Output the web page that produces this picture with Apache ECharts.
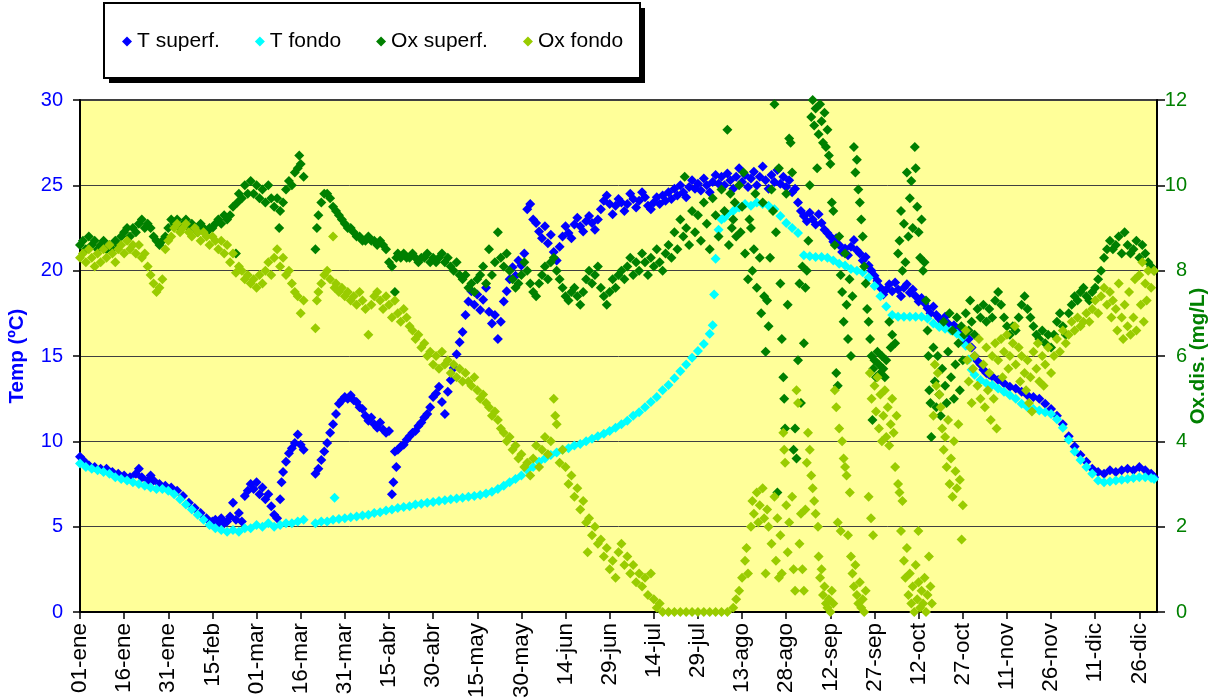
<!DOCTYPE html>
<html>
<head>
<meta charset="utf-8">
<script src="https://cdn.jsdelivr.net/npm/echarts@6/dist/echarts.min.js"></script>
<style>
  html, body { margin: 0; padding: 0; background: #fff; }
  #chart { width: 1214px; height: 699px; }
</style>
</head>
<body>
<div id="chart"></div>
<script>
// Tick labels on the date axis, one every 15 days (leap year)
const dateTicks = ['01-ene','16-ene','31-ene','15-feb','01-mar','16-mar','31-mar','15-abr','30-abr',
  '15-may','30-may','14-jun','29-jun','14-jul','29-jul','13-ago','28-ago','12-sep','27-sep',
  '12-oct','27-oct','11-nov','26-nov','11-dic','26-dic'];

// Surface temperature (ºC): [day of year, value]
const tSuperf = [
  [0,9.1],[1,8.9],[2,8.7],[3,8.6],[5,8.5],[7,8.4],[9,8.4],[11,8.2],[13,8.1],[15,8.0],[17,7.9],[19,8.1],[20,8.4],
  [21,7.9],[23,7.7],[24,8.0],[25,7.7],[27,7.5],[29,7.4],[31,7.3],[33,7.1],[35,6.8],[37,6.4],[39,6.1],[41,5.8],
  [43,5.5],[45,5.3],[46,5.4],[47,5.2],[48,5.5],[49,5.2],[50,5.3],[51,5.6],[52,6.4],[53,5.4],[54,5.8],[55,5.3],
  [56,6.8],[57,7.1],[58,7.5],[59,7.2],[60,7.6],[61,6.9],[62,7.3],[63,6.6],[64,6.9],[65,6.2],[66,5.7],[67,5.5],
  [68,6.6],[68.5,7.6],[69,8.2],[70,8.8],[71,9.3],[72,9.6],[73,9.9],[74,10.4],[75,9.8],[76,9.5],
  [80,8.1],[81,8.4],[82,8.9],[83,9.4],[84,9.9],[85,10.5],[86,11.0],[87,11.6],[88,12.2],[89,12.4],[90,12.6],
  [91,12.5],[92,12.7],[93,12.4],[94,12.3],[95,12.0],[96,11.9],[97,11.5],[98,11.2],[99,11.4],[100,11.0],
  [101,10.8],[102,11.1],[103,10.7],[104,10.5],[105,10.6],[106,6.9],[106.5,7.6],[107,9.4],[107.5,8.5],
  [108,9.5],[109,9.7],[110,9.8],[111,10.1],[112,10.3],[113,10.5],[114,10.6],[115,10.9],[116,11.1],[117,11.4],
  [118,11.6],[119,12.0],[120,12.6],[121,12.8],[122,13.2],[123,12.3],[124,11.6],[125,12.9],[126,13.6],
  [127,14.3],[128,15.1],[129,15.8],[130,16.4],[131,17.4],[132,18.2],[133,18.8],[134,18.0],[135,18.6],
  [136,17.7],[137,18.3],[138,19.0],[139,17.6],[140,16.9],[141,17.4],[142,16.0],[143,17.0],[144,18.2],
  [145,18.8],[146,19.5],[147,20.2],[148,19.7],[149,20.6],[150,20.3],[151,21.0],[152,23.6],[153,23.9],
  [154,23.0],[155,22.8],[156,22.3],[157,21.9],[158,22.6],[159,21.6],[160,22.1],[161,21.1],[162,20.6],
  [163,21.4],[164,22.0],[165,22.6],[166,22.2],[167,21.9],[168,22.7],[169,23.1],[170,22.6],[171,22.3],
  [172,22.9],[173,23.2],[174,22.8],[175,22.4],[176,23.0],[177,23.6],[178,24.1],[179,24.4],[180,23.9],
  [181,23.3],[182,23.8],[183,24.2],[184,24.0],[185,23.5],[186,23.9],[187,24.5],[188,24.2],[189,23.7],
  [190,24.1],[191,24.6],[192,24.3],[193,23.8],[194,23.6],[195,24.0],[196,24.3],[197,23.9],[198,24.4],
  [199,24.1],[200,24.6],[201,24.2],[202,24.8],[203,24.4],[204,25.0],[205,24.6],[206,24.3],[207,24.9],
  [208,25.3],[209,24.8],[210,25.1],[211,24.7],[212,25.4],[213,25.0],[214,24.6],[215,25.2],[216,25.6],
  [217,25.1],[218,25.5],[219,25.0],[220,25.7],[221,25.3],[222,24.8],[223,25.5],[224,26.0],[225,25.2],
  [226,25.6],[227,24.9],[228,25.4],[229,25.8],[230,25.0],[231,25.5],[232,26.1],[233,25.3],[234,24.8],
  [235,25.6],[236,25.2],[237,25.9],[238,25.1],[239,25.5],[240,24.9],[241,25.3],[242,24.6],[243,24.8],
  [244,24.0],[245,23.5],[246,23.2],[247,22.9],[248,23.4],[249,23.0],[250,22.7],[251,23.3],[252,22.8],
  [253,22.4],[254,22.2],[255,22.0],[256,21.7],[257,21.9],[258,21.5],[259,21.1],[260,21.3],[261,20.9],
  [262,21.4],[263,21.8],[264,21.2],[265,21.0],[266,20.6],[267,20.8],[268,20.3],[269,20.0],[270,19.7],
  [271,19.4],[272,19.0],[273,18.6],[274,18.9],[275,19.2],[276,18.8],[277,19.3],[278,18.9],[279,18.5],
  [280,19.0],[281,19.2],[282,18.7],[283,18.9],[284,18.5],[285,18.2],[286,18.4],[287,18.1],[288,17.8],
  [289,17.5],[290,17.9],[291,17.4],[292,17.2],[293,17.0],[294,17.3],[295,16.9],[296,16.6],[297,16.8],
  [298,16.4],[299,16.6],[300,16.2],[301,15.8],[302,16.0],[303,15.5],[304,15.0],[305,14.7],[306,14.5],
  [307,14.2],[308,14.0],[309,13.9],[310,13.8],[312,13.6],[314,13.4],[316,13.2],[318,13.1],[320,12.9],
  [322,12.7],[324,12.6],[326,12.5],[328,12.2],[330,11.9],[332,11.5],[334,11.0],[336,10.3],[338,9.7],
  [340,9.2],[342,8.8],[344,8.4],[346,8.2],[348,8.1],[350,8.3],[352,8.2],[354,8.3],[356,8.4],[358,8.3],
  [360,8.5],[362,8.3],[364,8.1],[365,7.9]
];

// Bottom temperature (ºC)
const tFondo = [
  [0,8.7],[2,8.5],[4,8.4],[6,8.3],[8,8.2],[10,8.1],[12,7.9],[14,7.8],[16,7.7],[18,7.6],[20,7.5],[22,7.4],
  [24,7.3],[26,7.2],[28,7.2],[30,7.1],[32,6.9],[34,6.6],[36,6.3],[38,6.0],[40,5.7],[42,5.4],[44,5.1],
  [46,4.9],[48,4.8],[50,4.7],[52,4.8],[54,4.7],[56,4.9],[58,4.9],[60,5.1],[62,5.0],[64,5.2],[66,5.0],
  [68,5.1],[70,5.2],[72,5.2],[74,5.3],[76,5.4],
  [80,5.2],[82,5.3],[84,5.3],[86,5.4],[86.5,6.7],[88,5.45],[90,5.5],[92,5.55],[94,5.6],[96,5.65],[98,5.7],
  [100,5.8],[102,5.85],[104,5.95],[106,6.0],[108,6.1],[110,6.15],[112,6.2],[114,6.3],[116,6.35],[118,6.4],
  [120,6.45],[122,6.5],[124,6.55],[126,6.6],[128,6.65],[130,6.7],[132,6.75],[134,6.8],[136,6.85],[138,6.95],
  [140,7.05],[142,7.2],[144,7.4],[146,7.6],[148,7.8],[150,8.0],[152,8.3],[154,8.5],[156,8.8],[158,9.0],
  [160,9.2],[162,9.35],[164,9.5],[166,9.6],[168,9.75],[170,9.85],[172,10.0],[174,10.15],[176,10.3],
  [178,10.45],[180,10.6],[182,10.8],[184,11.0],[186,11.2],[188,11.5],[190,11.7],[192,12.0],[194,12.3],
  [196,12.6],[198,13.0],[200,13.3],[202,13.7],[204,14.1],[206,14.5],[208,14.9],[210,15.3],[212,15.7],
  [214,16.3],[215,16.8],[215.5,18.6],[216,20.7],[217,22.4],[218,23.0],[219,23.1],[220,23.3],[222,23.5],
  [224,23.7],[226,23.9],[228,23.8],[230,24.0],[232,23.9],[234,23.8],[236,23.6],[238,23.2],[240,22.8],
  [242,22.5],[244,22.2],
  [246,20.9],[248,20.85],[250,20.8],[252,20.8],[254,20.75],[256,20.6],[258,20.4],[260,20.3],[262,20.1],
  [264,20.0],[266,19.9],[268,19.6],[270,19.1],[272,18.5],[274,17.9],[276,17.4],[278,17.3],[280,17.3],
  [282,17.3],[284,17.3],[286,17.3],[288,17.2],[290,16.9],[292,16.7],[294,16.6],[296,16.5],[298,16.3],
  [300,16.1],[301,15.6],[302,14.8],[303,14.2],[304,13.9],[306,13.6],[308,13.4],[310,13.3],[312,13.1],
  [314,12.9],[316,12.7],[318,12.5],[320,12.2],[322,12.0],[324,11.9],[326,11.8],[328,11.7],[330,11.6],
  [332,11.3],[334,10.8],[336,10.1],[338,9.4],[340,8.9],[342,8.5],[344,8.1],[346,7.7],[348,7.6],[350,7.65],
  [352,7.7],[354,7.75],[356,7.8],[358,7.85],[360,7.9],[362,7.9],[364,7.85],[365,7.8]
];

// Surface dissolved oxygen (mg/L)
const oxSuperf = [
  [0,8.6],[1,8.7],[2,8.5],[3,8.8],[4,8.6],[5,8.7],[6,8.5],[7,8.6],[8,8.7],[9,8.5],[10,8.6],[11,8.5],[12,8.7],
  [13,8.6],[14,8.8],[15,8.9],[16,9.0],[17,8.8],[18,9.0],[19,8.9],[20,9.1],[21,9.2],[22,9.0],[23,9.1],[24,9.0],
  [25,8.8],[26,8.7],[27,8.6],[28,8.7],[29,8.8],[30,9.0],[31,9.2],[32,9.1],[33,9.2],[34,9.0],[35,9.1],[36,9.2],
  [37,9.0],[38,9.1],[39,9.0],[40,8.9],[41,9.1],[42,9.0],[43,8.9],[44,9.0],[45,9.0],[46,9.1],[47,9.2],[48,9.1],
  [49,9.3],[50,9.2],[51,9.3],[52,9.5],[53,8.4],[53.5,9.6],[54,9.8],[55,9.7],[56,10.0],[57,9.8],[58,10.1],
  [59,9.8],[60,10.0],[61,9.7],[62,9.9],[63,9.6],[64,10.0],[65,9.7],[66,9.5],[67,9.7],[67.7,9.0],[68,9.4],
  [69,9.6],[70,9.9],[71,10.1],[72,10.0],[73,10.3],[74,10.4],[74.5,10.7],[75,10.5],[76,10.2],
  [80,8.5],[80.5,9.0],[81,9.3],[82,9.6],[83,9.8],[84,9.8],[85,9.7],[86,9.5],[87,9.4],[88,9.3],[89,9.2],
  [90,9.1],[91,9.0],[92,9.0],[93,8.9],[94,8.8],[95,8.8],[96,8.7],[97,8.7],[98,8.8],[99,8.7],[100,8.7],
  [101,8.6],[102,8.7],[103,8.6],[104,8.5],[105,8.2],[106,8.1],[107,7.5],[107.5,8.3],[108,8.4],[109,8.3],
  [110,8.4],[111,8.3],[112,8.3],[113,8.4],[114,8.3],[115,8.2],[116,8.3],[117,8.3],[118,8.4],[119,8.2],
  [120,8.3],[121,8.2],[122,8.3],[123,8.4],[124,8.2],[125,8.3],[126,8.1],[127,8.0],[128,8.2],[129,7.9],
  [130,7.8],[131,7.9],[132,7.6],[133,7.7],[134,7.5],[135,7.8],[136,7.9],[137,8.1],[138,7.7],[139,8.5],
  [140,7.9],[141,8.2],[142,8.9],[143,8.3],[144,8.1],[145,8.4],[146,8.0],[147,7.8],[148,7.6],[149,7.7],
  [150,7.9],[151,8.2],[152,8.0],[153,7.7],[154,7.5],[155,7.4],[156,7.7],[157,7.9],[158,8.1],[159,7.8],
  [160,8.2],[161,8.3],[162,8.0],[163,7.8],[164,7.6],[165,7.4],[166,7.3],[167,7.5],[168,7.6],[169,7.4],
  [170,7.2],[171,7.5],[172,7.8],[173,8.0],[174,7.7],[175,7.9],[176,8.1],[177,7.6],[178,7.4],[179,7.2],
  [180,7.5],[181,7.8],[182,7.6],[183,7.9],[184,8.0],[185,7.8],[186,8.1],[187,8.3],[188,7.9],[189,8.2],
  [190,8.0],[191,8.4],[192,8.2],[193,7.9],[194,8.3],[195,8.1],[196,8.5],[197,8.2],[198,8.0],[199,8.4],
  [200,8.6],[201,8.3],[202,8.9],[203,8.5],[204,9.2],[205,8.8],[205.5,10.2],[206,9.0],[207,8.6],[208,9.4],
  [209,8.9],[210,9.3],[211,8.7],[212,9.6],[213,9.1],[214,8.5],[215,9.7],[216,9.3],[217,8.8],[218,9.9],
  [219,9.4],[220,11.3],[220.5,8.6],[221,9.8],[221.5,9.0],[222,9.2],[222.5,9.6],[223,8.8],[224,10.0],
  [224.5,8.9],[225,9.5],[225.5,10.3],[226,8.4],[227,7.8],[227.5,9.2],[228,9.0],[228.5,8.0],[229,8.5],
  [229.5,9.8],[230,7.6],[231,8.3],[231.5,7.0],[232,9.6],[232.5,7.4],[233,6.1],[233.5,7.3],[234,6.7],
  [234.5,8.3],[235,9.9],[235.5,9.4],[236,11.9],[236.5,8.9],[237,2.8],[237.5,10.4],[238,7.7],[238.5,6.4],
  [239,5.5],[239.3,5.0],[239.6,4.3],[240,9.8],[240.5,7.2],[241,11.1],[241.5,11.0],[242,10.3],[242.5,3.8],
  [243,4.3],[243.5,3.6],[244,5.9],[244.5,7.7],[245,4.9],
  [245.5,8.1],[246,6.3],[246.5,7.6],[247,8.0],[247.5,8.7],[248,10.0],[248.5,11.6],[249,12.0],[249.5,11.4],
  [250,11.8],[250.5,10.4],[251,11.2],[251.5,11.9],[252,11.5],[252.5,11.0],[253,11.7],[253.5,10.9],
  [254,11.3],[254.5,10.7],[255,10.5],[255.5,9.6],[256,9.4],[256.5,8.6],[257,5.6],[257.5,5.3],[258,8.8],
  [258.5,7.9],[259,7.5],[259.5,6.8],[260,8.4],[260.5,7.2],[261,6.4],[261.5,7.8],[262,6.0],[262.5,7.4],
  [263,10.9],[263.5,10.3],[264,10.6],[264.5,9.9],[265,9.6],[265.5,9.2],[266,8.8],[266.5,8.1],[267,7.7],
  [267.5,7.1],[268,6.8],[268.5,6.4],[269,6.0],[269.3,4.5],[269.6,5.7],[270,5.9],[270.5,5.5],[271,6.1],
  [271.5,5.8],[272,5.6],[272.5,6.0],[273,5.7],[273.5,5.5],[274,5.9],[275,6.8],[275.5,6.2],[276,6.5],
  [277,6.3],[278,8.4],[278.5,8.7],[279,9.4],[279.5,8.0],[280,9.1],[280.5,8.2],[281,10.3],[281.5,8.8],
  [282,9.7],[282.5,10.1],[283,9.0],[283.7,10.9],[284,10.4],[284.5,9.5],[285,8.9],[285.5,8.3],[286,9.2],
  [286.5,8.0],[287,8.2],[287.5,7.3],[288,6.6],[288.3,6.0],[288.6,5.2],[289,4.9],[289.3,4.1],[290,6.2],
  [290.5,5.4],[291,4.8],[291.5,6.0],[292,5.1],[292.5,4.6],[293,5.7],[293.5,6.8],[294,5.3],[294.5,4.9],
  [295,6.1],[295.5,7.0],[296,5.5],[296.5,6.6],[297,5.0],[297.5,5.8],[298,6.9],[298.5,6.3],[299,5.2],
  [299.5,6.7],[300,5.9],[300.5,6.5],[301,7.0],[302,6.6],[302.5,7.3],[303,6.8],[304,6.5],[305,7.1],[306,6.9],
  [307,7.2],[308,6.8],[309,7.1],[310,6.9],[311,7.3],[312,7.5],[313,7.2],[314,6.9],[315,6.7],[316,6.5],
  [317,6.7],[318,6.6],[319,6.9],[320,7.2],[321,7.4],[322,7.1],[323,6.9],[324,6.7],[325,6.5],[326,6.4],
  [327,6.6],[328,6.3],[329,6.5],[330,6.2],[331,6.5],[332,6.8],[333,7.0],[334,6.7],[335,6.5],[336,7.0],
  [337,7.2],[338,7.4],[339,7.3],[340,7.5],[341,7.6],[342,7.4],[343,7.3],[344,7.5],[345,7.6],[346,7.8],
  [347,8.0],[348,8.3],[349,8.5],[350,8.7],[351,8.5],[352,8.6],[353,8.8],[354,8.4],[355,8.9],[356,8.6],
  [357,8.4],[358,8.5],[359,8.7],[360,8.3],[361,8.6],[362,8.4],[363,8.2],[364,8.1],[365,8.0]
];

// Bottom dissolved oxygen (mg/L)
const oxFondo = [
  [0,8.3],[1,8.4],[2,8.2],[3,8.5],[4,8.3],[5,8.1],[6,8.4],[7,8.2],[8,8.5],[9,8.3],[10,8.6],[11,8.4],[12,8.2],
  [13,8.5],[14,8.6],[15,8.4],[16,8.7],[17,8.5],[18,8.6],[19,8.4],[20,8.6],[21,8.3],[22,8.4],[23,8.1],[24,7.9],
  [25,7.7],[26,7.5],[27,7.6],[28,7.8],[29,8.5],[30,8.7],[31,8.8],[32,9.0],[33,9.1],[34,8.9],[35,9.0],[36,9.1],
  [37,8.9],[38,8.8],[39,9.0],[40,8.9],[41,8.7],[42,8.9],[43,8.8],[44,8.6],[45,8.8],[46,8.7],[47,8.5],[48,8.7],
  [49,8.4],[50,8.6],[51,8.2],[52,8.4],[53,7.95],[54,8.1],[55,8.0],[56,7.8],[57,7.9],[58,7.7],[59,7.8],[60,7.6],
  [61,7.9],[62,7.7],[63,8.0],[64,8.2],[65,7.9],[66,8.3],[67,8.5],[68,8.1],[69,8.3],[70,7.9],[71,8.0],[72,7.7],
  [73,7.5],[74,7.4],[75,7.0],[76,7.3],[80,6.65],[80.5,7.3],[81,7.5],[82,7.7],[83,7.9],[84,8.0],[85,7.8],
  [86,8.8],[86.5,7.6],[87,7.7],[88,7.5],[89,7.6],[90,7.4],[91,7.5],[92,7.3],[93,7.4],[94,7.2],[95,7.5],
  [96,7.3],[97,7.1],[98,6.5],[99,7.2],[100,7.4],[101,7.5],[102,7.3],[103,7.1],[104,7.4],[105,7.2],[106,6.9],
  [107,7.3],[108,7.0],[109,6.8],[110,7.1],[111,6.9],[112,6.7],[113,6.6],[114,6.4],[115,6.5],[116,6.2],
  [117,6.3],[118,6.0],[119,6.1],[120,5.8],[121,6.0],[122,5.7],[123,6.1],[124,5.8],[125,5.9],[126,5.6],
  [127,5.8],[128,5.5],[129,5.7],[130,5.4],[131,5.6],[132,5.4],[133,5.3],[134,5.5],[135,5.2],[136,5.0],
  [137,5.1],[138,4.9],[139,4.8],[140,4.6],[141,4.7],[142,4.5],[143,4.3],[144,4.2],[145,4.0],[146,4.1],
  [147,3.8],[148,3.9],[149,3.6],[150,3.7],[151,3.4],[152,3.5],[153,3.2],[154,3.6],[155,3.9],[156,3.4],
  [157,3.8],[158,4.1],[159,3.7],[160,4.0],[161,5.0],[161.5,4.6],[162,4.4],[163,3.5],[164,3.8],[165,3.4],
  [166,3.0],[167,3.2],[168,2.7],[169,2.9],[170,2.4],[171,2.6],[172,2.1],[172.5,1.4],[173,2.2],[174,1.8],
  [175,2.0],[176,1.6],[177,1.7],[178,1.3],[179,1.5],[180,1.0],[181,1.2],[182,0.8],[183,1.4],[184,1.6],
  [185,1.1],[186,1.3],[187,0.9],[188,1.1],[189,0.7],[190,0.9],[191,0.6],[192,0.8],[193,0.4],[194,0.9],
  [195,0.3],[196,0.1],[197,0.2],[198,0],[200,0],[202,0],[204,0],[206,0],[208,0],[210,0],[212,0],[214,0],
  [216,0],[218,0],[220,0],[222,0.1],[223,0.3],[224,0.5],[225,0.8],[226,1.2],[226.5,1.5],[227,0.9],
  [228,2.0],[228.5,2.6],[229,2.3],[230,2.8],[230.5,2.1],[231,2.5],[232,2.9],[232.5,2.2],[233,0.9],
  [233.5,2.4],[234,2.0],[235,1.6],[236,2.7],[236.5,1.2],[237,2.2],[237.5,0.8],[238,1.8],[238.5,0.9],
  [239,4.2],[239.3,3.8],[239.6,3.5],[240,2.5],[240.5,1.4],[241,2.1],[242,2.7],[242.5,1.0],[243,0.5],
  [243.5,5.2],[244,4.9],[244.5,1.6],[245,2.3],
  [245.5,1.0],[246,0.5],[246.5,2.4],[247,3.5],[247.4,4.2],[248,3.8],[248.5,3.2],[249,2.9],[249.5,2.6],
  [250,2.3],[250.8,2.0],[251,1.3],[251.5,0.8],[252,1.0],[252.5,0.4],[253,0.6],[253.5,0.2],[254,0.1],
  [254.5,0.3],[255,0.0],[255.5,0.5],[256,0.2],[256.5,5.2],[257,4.8],[257.5,2.1],[258,4.3],[258.5,1.9],
  [259,4.0],[259.5,3.6],[260,3.4],[260.5,3.2],[261,1.8],[261.6,2.8],[262,1.3],[262.5,0.9],[263,0.6],
  [263.5,1.1],[264,0.4],[264.5,0.2],[265,0.7],[265.5,0.1],[266,0.3],[266.5,0.0],[267,0.5],[268,2.7],
  [268.4,5.6],[268.8,2.2],[269,5.0],[269.5,1.8],[270,5.3],[270.5,4.7],[271,5.5],[271.5,4.3],[272,5.1],
  [272.5,4.0],[273,4.6],[273.5,5.2],[274,4.1],[274.5,4.8],[275,3.9],[275.5,4.4],[276,5.0],[276.5,4.2],
  [277,3.4],[277.5,4.6],[278,3.0],[278.5,2.8],[279,1.9],[279.5,2.6],[280,1.2],[280.5,0.8],[281,1.5],
  [281.5,0.4],[282,0.9],[282.5,0.2],[283,0.6],[283.5,0.0],[284,1.1],[284.5,0.3],[284.9,1.9],[285,0.7],
  [285.5,0.1],[286,0.5],[286.5,0.2],[287,0.8],[287.5,0.0],[288,0.4],[288.5,1.3],[289,0.6],[289.5,0.2],
  [290,4.6],[290.5,5.8],[291,5.3],[291.5,5.6],[292,5.1],[292.5,4.8],[293,4.3],[293.5,3.8],[294,4.1],
  [294.5,3.4],[295,4.5],[295.5,3.0],[296,3.6],[296.5,2.7],[297,4.0],[297.5,3.3],[298,2.9],[298.5,4.4],
  [299,3.1],[299.6,1.7],[300,2.5],[301,6.6],[301.5,5.9],[302,5.4],[302.5,6.2],[303,4.9],[303.5,5.7],
  [304,6.0],[305,5.3],[305.5,6.4],[306,5.0],[307,5.8],[307.5,4.8],[308,6.2],[308.5,5.2],[309,5.6],
  [309.5,4.5],[310,6.0],[310.5,5.0],[311,6.3],[311.5,4.3],[312,5.9],[313,6.4],[313.5,5.5],[314,6.1],
  [315,6.5],[315.5,5.7],[316,6.0],[317,6.3],[317.7,6.7],[318,5.8],[319,6.2],[319.5,5.4],[320,6.0],[321,5.6],
  [321.5,5.2],[322,5.9],[322.5,4.9],[323,5.5],[323.5,4.7],[324,6.1],[325,5.7],[325.5,6.3],[326,5.4],
  [327,6.0],[327.5,5.3],[328,5.8],[329,6.2],[330,5.6],[331,6.0],[332,6.4],[333,6.1],[334,6.6],[335,6.3],
  [336,6.5],[337,6.8],[338,6.6],[339,6.9],[340,6.7],[341,6.8],[342,7.0],[343,6.8],[344,7.1],[345,7.3],
  [346,7.0],[347,7.4],[348,7.6],[349,7.2],[350,7.5],[350.5,6.9],[351,7.3],[352,7.1],[352.5,6.6],[353,7.7],
  [354,6.9],[354.5,6.4],[355,7.2],[356,6.7],[356.5,7.5],[357,6.5],[358,6.9],[358.5,7.8],[359,6.6],
  [360,7.9],[360.5,7.2],[361,8.2],[361.5,6.8],[362,7.7],[362.5,7.3],[363,8.0],[364,7.6],[365,8.0]
];

const tickDays = dateTicks.map((_, i) => i * 15);
const FONT = '"Liberation Sans", Arial, sans-serif';

const chart = echarts.init(document.getElementById('chart'), null, { renderer: 'canvas' });

function scatter(name, data, color, axis) {
  return {
    name, type: 'scatter', data, yAxisIndex: axis,
    symbol: 'diamond', symbolSize: 10, clip: false,
    itemStyle: { color, opacity: 1 },
    emphasis: { disabled: true },
    animation: false
  };
}

chart.setOption({
  backgroundColor: '#ffffff',
  textStyle: { fontFamily: FONT },
  animation: false,
  graphic: [
    // legend frame with its drop shadow
    { type: 'rect', z: 1, shape: { x: 109, y: 8, width: 536, height: 75 }, style: { fill: '#000' } },
    { type: 'rect', z: 2, shape: { x: 104, y: 3, width: 536, height: 75 }, style: { fill: '#fff', stroke: '#000', lineWidth: 2 } }
  ],
  legend: {
    z: 10, left: 122, top: 31, padding: 0, itemGap: 35,
    icon: 'diamond', itemWidth: 10, itemHeight: 10,
    textStyle: { fontSize: 21, color: '#000', fontFamily: FONT },
    data: ['T superf.', 'T fondo', 'Ox superf.', 'Ox fondo']
  },
  grid: {
    left: 80, right: 57, top: 100, bottom: 87,
    containLabel: false, outerBoundsMode: 'none',
    show: true, backgroundColor: '#FFFF99', borderColor: '#000', borderWidth: 1.5
  },
  xAxis: {
    type: 'value', min: 0, max: 366,
    axisLine: { onZero: false, lineStyle: { color: '#000', width: 2 } },
    axisTick: { customValues: tickDays, length: 7, lineStyle: { color: '#000', width: 1.5 } },
    axisLabel: {
      customValues: tickDays, rotate: 90, margin: 11, fontSize: 22.5, color: '#000', fontFamily: FONT,
      formatter: v => dateTicks[Math.round(v / 15)]
    },
    splitLine: { show: false }
  },
  yAxis: [
    {
      type: 'value', min: 0, max: 30, interval: 5, position: 'left',
      name: 'Temp (ºC)', nameLocation: 'middle', nameRotate: 90, nameGap: 52, nameMoveOverlap: false,
      nameTextStyle: { color: '#0000FF', fontWeight: 'bold', fontSize: 20.5, fontFamily: FONT },
      axisLine: { show: true, lineStyle: { color: '#000', width: 2 } },
      axisTick: { show: true, length: 7, lineStyle: { color: '#000', width: 1.5 } },
      axisLabel: { color: '#0000FF', fontSize: 20, margin: 17, fontFamily: FONT },
      splitLine: { show: true, lineStyle: { color: '#404040', width: 1 } }
    },
    {
      type: 'value', min: 0, max: 12, interval: 2, position: 'right',
      name: 'Ox.dis. (mg/L)', nameLocation: 'middle', nameRotate: 90, nameGap: 31, nameMoveOverlap: false,
      nameTextStyle: { color: '#008000', fontWeight: 'bold', fontSize: 20.5, fontFamily: FONT },
      axisLine: { show: true, lineStyle: { color: '#000', width: 2 } },
      axisTick: { show: true, length: 8, lineStyle: { color: '#000', width: 1.5 } },
      axisLabel: { color: '#008000', fontSize: 20, margin: 30, align: 'right', fontFamily: FONT },
      splitLine: { show: false }
    }
  ],
  series: [
    scatter('T superf.', tSuperf, '#0000FF', 0),
    scatter('T fondo', tFondo, '#00FFFF', 0),
    scatter('Ox superf.', oxSuperf, '#008000', 1),
    scatter('Ox fondo', oxFondo, '#99CC00', 1)
  ]
});
</script>
</body>
</html>
